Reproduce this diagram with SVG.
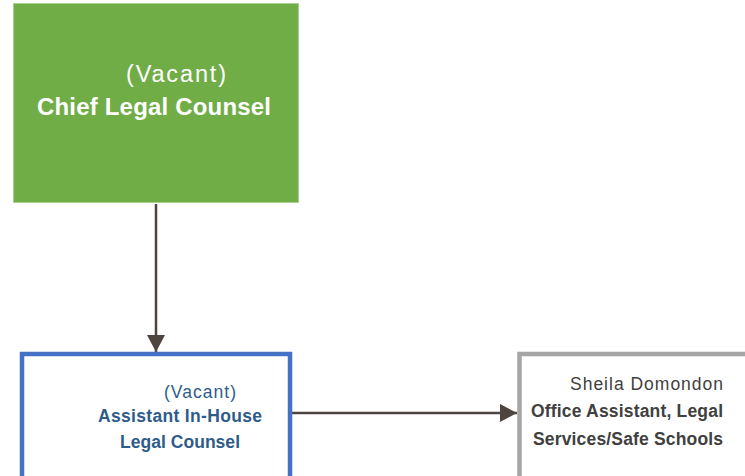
<svg xmlns="http://www.w3.org/2000/svg" width="745" height="476" viewBox="0 0 745 476">
<defs>
<style>
.t{font-family:"Liberation Sans",Arial,sans-serif;}
.conn{stroke:#4F4540;stroke-width:2.5;fill:none;}
</style>
<marker id="ah" markerWidth="18" markerHeight="18" viewBox="0 0 18 18" refX="17" refY="9" orient="auto" markerUnits="userSpaceOnUse">
<path d="M0,0 L17,9 L0,18 Z" fill="#4F4540"/>
</marker>
</defs>
<rect width="745" height="476" fill="#ffffff"/>
<g id="connectors">
<line class="conn" x1="156" y1="204" x2="156" y2="352" marker-end="url(#ah)"/>
<line class="conn" x1="292" y1="413" x2="517" y2="413" marker-end="url(#ah)"/>
</g>
<g id="chief">
<rect x="13.5" y="3.5" width="285" height="199" fill="#70AD47" stroke="#A9D18E" stroke-width="1"/>
<text class="t" x="176" y="82" font-size="23.5" fill="#ffffff" text-anchor="middle" textLength="100">(Vacant)</text>
<text class="t" x="154" y="115" font-size="24" font-weight="bold" fill="#ffffff" text-anchor="middle" textLength="234">Chief Legal Counsel</text>
</g>
<g id="assistant">
<rect x="22" y="354" width="268" height="140" fill="#ffffff" stroke="#4472C4" stroke-width="4.5"/>
<text class="t" x="200" y="398" font-size="17.5" fill="#2E5C8A" text-anchor="middle" textLength="72">(Vacant)</text>
<text class="t" x="180" y="422" font-size="17.5" font-weight="bold" fill="#2E5C8A" text-anchor="middle" textLength="164">Assistant In-House</text>
<text class="t" x="180" y="448" font-size="17.5" font-weight="bold" fill="#2E5C8A" text-anchor="middle" textLength="120">Legal Counsel</text>
</g>
<g id="office">
<rect x="519.5" y="354" width="260" height="140" fill="#ffffff" stroke="#A5A5A5" stroke-width="4.5"/>
<text class="t" x="723" y="390" font-size="17.5" fill="#404040" text-anchor="end" textLength="153">Sheila Domondon</text>
<text class="t" x="723" y="417" font-size="17.5" font-weight="bold" fill="#404040" text-anchor="end" textLength="192">Office Assistant, Legal</text>
<text class="t" x="723" y="445" font-size="17.5" font-weight="bold" fill="#404040" text-anchor="end" textLength="190">Services/Safe Schools</text>
</g>
</svg>
